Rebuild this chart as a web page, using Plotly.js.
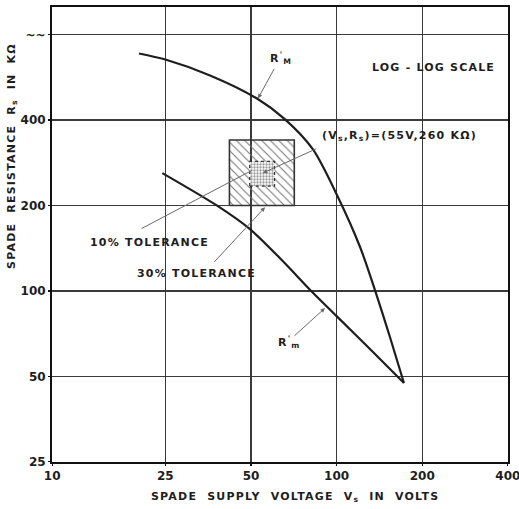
<!DOCTYPE html>
<html>
<head>
<meta charset="utf-8">
<script src="https://cdn.plot.ly/plotly-3.0.1.min.js"></script>
<style>
  html, body { margin: 0; padding: 0; background: #fff; }
  #chart { width: 519px; height: 509px; }
  .annotation-text { letter-spacing: 1.2px; }
</style>
</head>
<body>
<div id="chart"></div>
<script>
// ---- data (log-log scale) ----
// Upper limit curve R'M  (volts, kilo-ohms)
const rMaxV = [20.2, 25, 35.9, 52.5, 65.9, 82.6, 100, 121, 136.4, 154, 172.5];
const rMaxR = [686, 653, 574, 476, 402, 315, 219, 142.5, 100.7, 68.8, 47.4];
// Lower limit curve R'm
const rMinV = [24.4, 37.9, 49.6, 64.9, 80.6, 100, 131, 172.5];
const rMinR = [260, 200, 165, 127, 101, 81.5, 62.4, 47.4];
// Design point and tolerance boxes
const designV = 55, designR = 260;
const tol30V = [42, 71];
const tol30R = [200, 340];
const tol10V = [49.5, 60.5];
const tol10R = [234, 286];
// Axis ticks
const xTickVals = [10, 25, 50, 100, 200, 400];
const xTickText = ['10', '25', '50', '100', '200', '400'];
const yTickVals = [25, 50, 100, 200, 400, 800];
const yTickText = ['25', '50', '100', '200', '400', '~~'];

function box(v, r) {
  return { x: [v[0], v[1], v[1], v[0], v[0]], y: [r[0], r[0], r[1], r[1], r[0]] };
}
const b30 = box(tol30V, tol30R);
const b10 = box(tol10V, tol10R);

const ink = '#1e1e1e';
const F = 'DejaVu Sans, sans-serif';

const traces = [
  {
    x: b30.x, y: b30.y, mode: 'lines', fill: 'toself',
    fillcolor: 'rgba(0,0,0,0)',
    fillpattern: { shape: '\\', size: 6, solidity: 0.18, fgcolor: '#777', bgcolor: 'rgba(0,0,0,0)' },
    line: { color: '#333', width: 1.6 }, hoverinfo: 'skip', showlegend: false
  },
  {
    x: b10.x, y: b10.y, mode: 'lines', fill: 'toself',
    fillcolor: 'rgba(255,255,255,1)',
    fillpattern: { shape: '.', size: 3, solidity: 0.45, fgcolor: '#999', bgcolor: '#fff' },
    line: { color: '#333', width: 1.3, dash: 'dot' }, hoverinfo: 'skip', showlegend: false
  },
  {
    x: rMaxV, y: rMaxR, mode: 'lines', line: { color: ink, width: 2.2, shape: 'spline', smoothing: 0.8 },
    hoverinfo: 'skip', showlegend: false
  },
  {
    x: rMinV, y: rMinR, mode: 'lines', line: { color: ink, width: 2.2, shape: 'spline', smoothing: 0.8 },
    hoverinfo: 'skip', showlegend: false
  }
];

const L = Math.log10;
const lead = '#6a6a6a';
const txt = (s, x, y, extra) => Object.assign({
  text: s, x: x, y: y, xref: 'x', yref: 'y', showarrow: false,
  font: { family: F, size: 11, color: ink, weight: 'bold' }
}, extra || {});
const arrow = (x, y, ax, ay, head) => ({
  text: '', x: x, y: y, xref: 'x', yref: 'y', ax: ax, ay: ay,
  showarrow: true, arrowhead: head, arrowsize: 0.9, arrowwidth: 1, arrowcolor: lead
});

const annotations = [
  txt('LOG - LOG SCALE', 2.342, 2.787),
  txt('R<sup>\'</sup><sub>M</sub>', 1.805, 2.82),
  txt('R<sup>\'</sup><sub>m</sub>', 1.833, 1.82),
  txt('10% TOLERANCE', 1.341, 2.172),
  txt('30% TOLERANCE', 1.506, 2.063),
  txt('(V<sub>s</sub>,R<sub>s</sub>)=(55V,260 KΩ)', 1.9417, 2.5443, { xanchor: 'left' }),
  arrow(1.7238, 2.678, 17, -31, 2),
  arrow(1.9592, 1.9395, -32, 29, 2),
  arrow(1.7027, 2.4247, -112, 59, 0),
  arrow(1.7484, 2.2946, -52, 56, 2),
  arrow(L(designV), L(designR), 55, -25, 2),
  {
    text: 'SPADE  SUPPLY  VOLTAGE  V<sub>s</sub>  IN  VOLTS', xref: 'paper', yref: 'paper',
    x: 0.533, y: -0.077, xanchor: 'center', yanchor: 'middle', showarrow: false,
    font: { family: F, size: 11, color: ink, weight: 'bold' }
  },
  {
    text: 'SPADE  RESISTANCE  R<sub>s</sub>  IN  KΩ', xref: 'paper', yref: 'paper',
    x: -0.088, y: 0.6725, xanchor: 'center', yanchor: 'middle', showarrow: false, textangle: -90,
    font: { family: F, size: 11, color: ink, weight: 'bold' }
  }
];

const axisCommon = {
  type: 'log', showgrid: true, gridcolor: '#3a3a3a', gridwidth: 1.4,
  showline: true, linecolor: '#111', linewidth: 2, mirror: true,
  ticks: 'outside', ticklen: 2, tickcolor: '#111', tickwidth: 1.2,
  zeroline: false, fixedrange: true, ticklabeloverflow: 'allow',
  tickfont: { family: F, size: 12, color: ink, weight: 'bold' }
};

const layout = {
  width: 519, height: 509,
  margin: { l: 52, r: 11, t: 7, b: 47 },
  paper_bgcolor: '#fff', plot_bgcolor: '#fff',
  showlegend: false,
  xaxis: Object.assign({}, axisCommon, {
    range: [L(10) - 0.0005, L(400) + 0.0005], tickvals: xTickVals, ticktext: xTickText
  }),
  yaxis: Object.assign({}, axisCommon, {
    range: [L(25) - 0.0005, L(1000)], tickvals: yTickVals, ticktext: yTickText
  }),
  annotations: annotations
};

Plotly.newPlot('chart', traces, layout, { staticPlot: true, displayModeBar: false });
</script>
</body>
</html>
